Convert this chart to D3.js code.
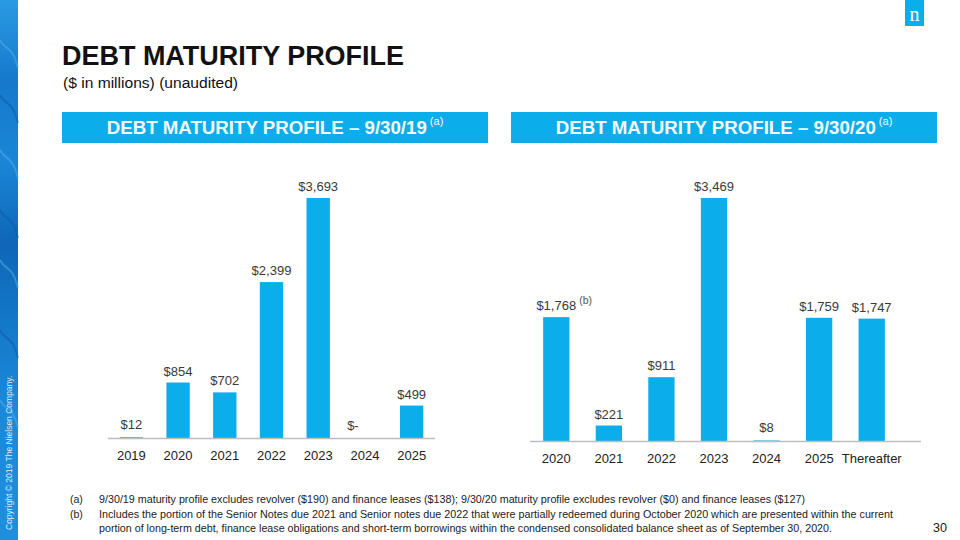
<!DOCTYPE html>
<html>
<head>
<meta charset="utf-8">
<script src="https://cdn.jsdelivr.net/npm/d3@7"></script>
<style>
  html, body { margin: 0; padding: 0; background: #fff; }
  svg { display: block; font-family: "Liberation Sans", Arial, sans-serif; }
</style>
</head>
<body>
<svg id="chart" width="960" height="540"></svg>
<script>
// ---------- data ----------
const years2019 = ["2019", "2020", "2021", "2022", "2023", "2024", "2025"];
const values2019 = [12, 854, 702, 2399, 3693, 0, 499];

const years2020 = ["2020", "2021", "2022", "2023", "2024", "2025", "Thereafter"];
const values2020 = [1768, 221, 911, 3469, 8, 1759, 1747];
const notes2020 = ["(b)", "", "", "", "", "", ""];

const titleText = "DEBT MATURITY PROFILE";
const subtitleText = "($ in millions) (unaudited)";
const panelTitles = ["DEBT MATURITY PROFILE – 9/30/19", "DEBT MATURITY PROFILE – 9/30/20"];
const footnotes = [
  { tag: "(a)", lines: ["9/30/19 maturity profile excludes revolver ($190) and finance leases ($138); 9/30/20 maturity profile excludes revolver ($0) and finance leases ($127)"] },
  { tag: "(b)", lines: ["Includes the portion of the Senior Notes due 2021 and Senior notes due 2022 that were partially redeemed during October 2020 which are presented within the current",
                        "portion of long-term debt, finance lease obligations and short-term borrowings within the condensed consolidated balance sheet as of September 30, 2020."] }
];
const copyrightText = "Copyright © 2019 The Nielsen Company.";
const pageNumber = "30";

// ---------- styles ----------
const BLUE = "#0BAEEA";
const svg = d3.select("#chart");
const fmt = v => v === 0 ? "$-" : d3.format("$,")(v);

// ---------- left decorative strip ----------
const defs = svg.append("defs");
const g1 = defs.append("linearGradient").attr("id", "strip").attr("x1", 0).attr("y1", 0).attr("x2", 0).attr("y2", 1);
[["0%", "#2a9ae4"], ["15%", "#1679cc"], ["30%", "#1a86d6"], ["45%", "#0f66b8"], ["60%", "#1478c8"], ["75%", "#1c88d8"], ["100%", "#1e8fdd"]]
  .forEach(([o, c]) => g1.append("stop").attr("offset", o).attr("stop-color", c));
svg.append("rect").attr("x", 0).attr("y", 0).attr("width", 18).attr("height", 540).attr("fill", "url(#strip)");
const waves = [40, 95, 150, 210, 260, 330, 400];
svg.append("g").selectAll("path").data(waves).join("path")
  .attr("d", d => `M0,${d} C6,${d + 12} 12,${d + 4} 18,${d + 28}`)
  .attr("fill", "none").attr("stroke", (d, i) => i % 2 ? "#0b5aa8" : "#4fb0ef")
  .attr("stroke-opacity", 0.5).attr("stroke-width", 2);
svg.append("text")
  .attr("transform", "translate(12,530) rotate(-90)")
  .attr("font-size", 8.5).attr("fill", "#d6ecff")
  .text(copyrightText);

// ---------- logo ----------
svg.append("rect").attr("x", 905).attr("y", 0).attr("width", 19).attr("height", 26).attr("fill", BLUE);
svg.append("text").attr("x", 914.5).attr("y", 21).attr("text-anchor", "middle")
  .attr("font-family", "'Liberation Serif', 'DejaVu Serif', serif").attr("font-size", 20).attr("fill", "#fff").text("n");

// ---------- headings ----------
svg.append("text").attr("x", 62).attr("y", 65).attr("font-size", 27).attr("font-weight", "bold")
  .attr("fill", "#111").attr("textLength", 342).attr("lengthAdjust", "spacingAndGlyphs").text(titleText);
svg.append("text").attr("x", 63).attr("y", 88).attr("font-size", 15.5).attr("fill", "#111")
  .attr("textLength", 175).attr("lengthAdjust", "spacingAndGlyphs").text(subtitleText);

// ---------- panels ----------
const panels = [
  { x0: 62, x1: 488, axisX: [108, 435], axisEnd: 435, base: 438, top: 198,
    cats: years2019, vals: values2019, notes: null, title: panelTitles[0] },
  { x0: 511, x1: 937, axisX: [530, 898], axisEnd: 921, base: 441, top: 198,
    cats: years2020, vals: values2020, notes: notes2020, title: panelTitles[1] }
];

panels.forEach(p => {
  // banner
  svg.append("rect").attr("x", p.x0).attr("y", 112).attr("width", p.x1 - p.x0).attr("height", 31).attr("fill", BLUE);
  const t = svg.append("text").attr("x", (p.x0 + p.x1) / 2).attr("y", 134).attr("text-anchor", "middle")
    .attr("fill", "#f4fbff");
  t.append("tspan").attr("font-size", 18.7).attr("font-weight", "bold").text(p.title);
  t.append("tspan").attr("font-size", 11).attr("dx", 3).attr("dy", -9).text("(a)");

  const x = d3.scaleBand().domain(p.cats).range(p.axisX).paddingInner(0.5).paddingOuter(0.25);
  const y = d3.scaleLinear().domain([0, d3.max(p.vals)]).range([p.base, p.top]);
  const data = p.cats.map((c, i) => ({ c, v: p.vals[i], n: p.notes ? p.notes[i] : "" }));

  const g = svg.append("g");
  g.selectAll("rect.bar").data(data).join("rect").attr("class", "bar")
    .attr("x", d => x(d.c)).attr("width", x.bandwidth())
    .attr("y", d => y(d.v)).attr("height", d => y(0) - y(d.v))
    .attr("fill", BLUE);

  const lbl = g.selectAll("text.val").data(data).join("text").attr("class", "val")
    .attr("x", d => x(d.c) + x.bandwidth() / 2)
    .attr("dx", d => d.v === 0 ? -12 : 0)
    .attr("y", d => y(d.v) - (d.v < 20 ? 8 : 7))
    .attr("text-anchor", "middle").attr("font-size", 13).attr("fill", "#3a3a3a")
    .text(d => fmt(d.v));

  g.selectAll("text.note").data(data.filter(d => d.n)).join("text").attr("class", "note")
    .attr("x", d => x(d.c) + x.bandwidth() / 2 + 23)
    .attr("y", d => y(d.v) - 13)
    .attr("font-size", 10.5).attr("fill", "#555")
    .text(d => d.n);

  // axis
  const ax = g.append("g").attr("transform", `translate(0,${p.base})`)
    .call(d3.axisBottom(x).tickSize(0).tickPadding(13));
  ax.select(".domain").remove();
  ax.selectAll("text").attr("font-size", 13).attr("fill", "#222").attr("font-family", "'Liberation Sans', Arial, sans-serif");
  g.append("line").attr("x1", p.axisX[0]).attr("x2", p.axisEnd).attr("y1", p.base + 0.5).attr("y2", p.base + 0.5)
    .attr("stroke", "#bdbdbd").attr("stroke-width", 1.5);
});

// ---------- footnotes ----------
const fw = [706, 794, 733];
let li = 0;
footnotes.forEach(f => {
  f.lines.forEach((line, j) => {
    const yy = 503 + li * 14.5;
    if (j === 0) svg.append("text").attr("x", 70).attr("y", yy).attr("font-size", 10.5).attr("fill", "#222").text(f.tag);
    svg.append("text").attr("x", 99).attr("y", yy).attr("font-size", 10.5).attr("fill", "#222")
      .attr("textLength", fw[li]).attr("lengthAdjust", "spacingAndGlyphs").text(line);
    li++;
  });
});
svg.append("text").attr("x", 947).attr("y", 532).attr("text-anchor", "end").attr("font-size", 12.5).attr("fill", "#222").text(pageNumber);
</script>
</body>
</html>
